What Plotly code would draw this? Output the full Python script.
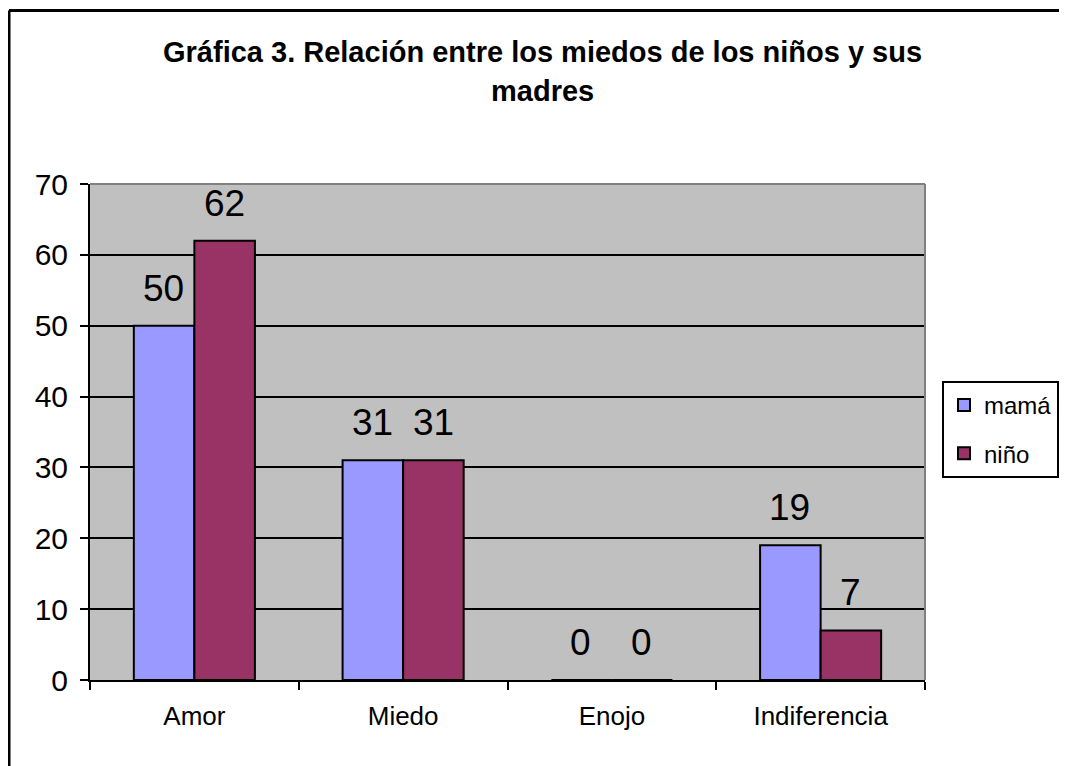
import plotly.graph_objects as go

CATEGORIES = ["Amor", "Miedo", "Enojo", "Indiferencia"]
MAMA = [50, 31, 0, 19]
NINO = [62, 31, 0, 7]
SERIES_NAMES = ["mamá", "niño"]
TITLE_LINES = ["Gráfica 3. Relación entre los miedos de los niños y sus", "madres"]

FONT = "Liberation Sans, Arial, sans-serif"
# the page body adds an 8px margin around the figure
W, H = 1059, 758
L, R, T, B = 82, 142, 176, 86
PW, PH = W - L - R, H - T - B


def px_to_paper(x, y):
    return (x - L) / PW, (H - B - y) / PH


fig = go.Figure()
fig.add_trace(
    go.Bar(
        x=CATEGORIES,
        y=MAMA,
        name=SERIES_NAMES[0],
        legendgroup="a",
        marker={"color": "#9999FF", "line": {"color": "black", "width": 2}},
    )
)
fig.add_trace(
    go.Bar(
        x=CATEGORIES,
        y=NINO,
        name=SERIES_NAMES[1],
        legendgroup="b",
        marker={"color": "#993366", "line": {"color": "black", "width": 2}},
    )
)

annotations = []
for values, shift in [(MAMA, -31), (NINO, 30)]:
    for cat, val in zip(CATEGORIES, values):
        annotations.append(
            dict(
                x=cat,
                y=val,
                text=str(val),
                showarrow=False,
                xshift=shift,
                yshift=15,
                yanchor="bottom",
                font={"family": FONT, "size": 37, "color": "black"},
            )
        )

tx, ty1 = px_to_paper(534, 44)
_, ty2 = px_to_paper(534, 83)
for text, ty in zip(TITLE_LINES, [ty1, ty2]):
    annotations.append(
        dict(
            x=tx,
            y=ty,
            xref="paper",
            yref="paper",
            xanchor="center",
            yanchor="middle",
            text=f"<b>{text}</b>",
            showarrow=False,
            font={"family": FONT, "size": 29, "color": "black"},
        )
    )

# outer frame (left and top edges only) and plot-area border
fx0, fy0 = px_to_paper(1, 2.5)
fx1, fy1 = px_to_paper(1080, 780)
shapes = [
    dict(type="line", xref="paper", yref="paper", x0=fx0, x1=fx0, y0=fy0, y1=fy1,
         line={"color": "black", "width": 3}),
    dict(type="line", xref="paper", yref="paper", x0=fx0, x1=fx1, y0=fy0, y1=fy0,
         line={"color": "black", "width": 3}),
    dict(type="line", xref="paper", yref="paper", x0=0, x1=1, y0=1, y1=1,
         line={"color": "#808080", "width": 2}),
    dict(type="line", xref="paper", yref="paper", x0=1, x1=1, y0=0, y1=1,
         line={"color": "#808080", "width": 2}),
]

lx, ly = px_to_paper(934, 373)

fig.update_layout(
    width=W,
    height=H,
    margin={"l": L, "r": R, "t": T, "b": B, "autoexpand": False},
    paper_bgcolor="white",
    plot_bgcolor="#C0C0C0",
    font={"family": FONT, "color": "black"},
    barmode="group",
    bargap=0.42,
    bargroupgap=0,
    showlegend=True,
    legend={
        "x": lx,
        "y": ly,
        "xanchor": "left",
        "yanchor": "top",
        "bgcolor": "white",
        "bordercolor": "black",
        "borderwidth": 2,
        "font": {"family": FONT, "size": 24},
        "traceorder": "grouped",
        "tracegroupgap": 14,
    },
    annotations=annotations,
    shapes=shapes,
)
fig.update_xaxes(
    showline=True,
    linecolor="black",
    linewidth=2,
    ticks="outside",
    tickson="boundaries",
    ticklen=8,
    tickwidth=2,
    tickcolor="black",
    tickfont={"family": FONT, "size": 26},
    ticklabelstandoff=12,
    showgrid=False,
)
fig.update_yaxes(
    range=[0, 70],
    dtick=10,
    showline=True,
    linecolor="black",
    linewidth=2,
    ticks="outside",
    ticklen=8,
    tickwidth=2,
    tickcolor="black",
    tickfont={"family": FONT, "size": 30},
    ticklabelstandoff=6,
    showgrid=True,
    gridcolor="black",
    gridwidth=2,
    zeroline=False,
)

fig.write_html("out.html")
